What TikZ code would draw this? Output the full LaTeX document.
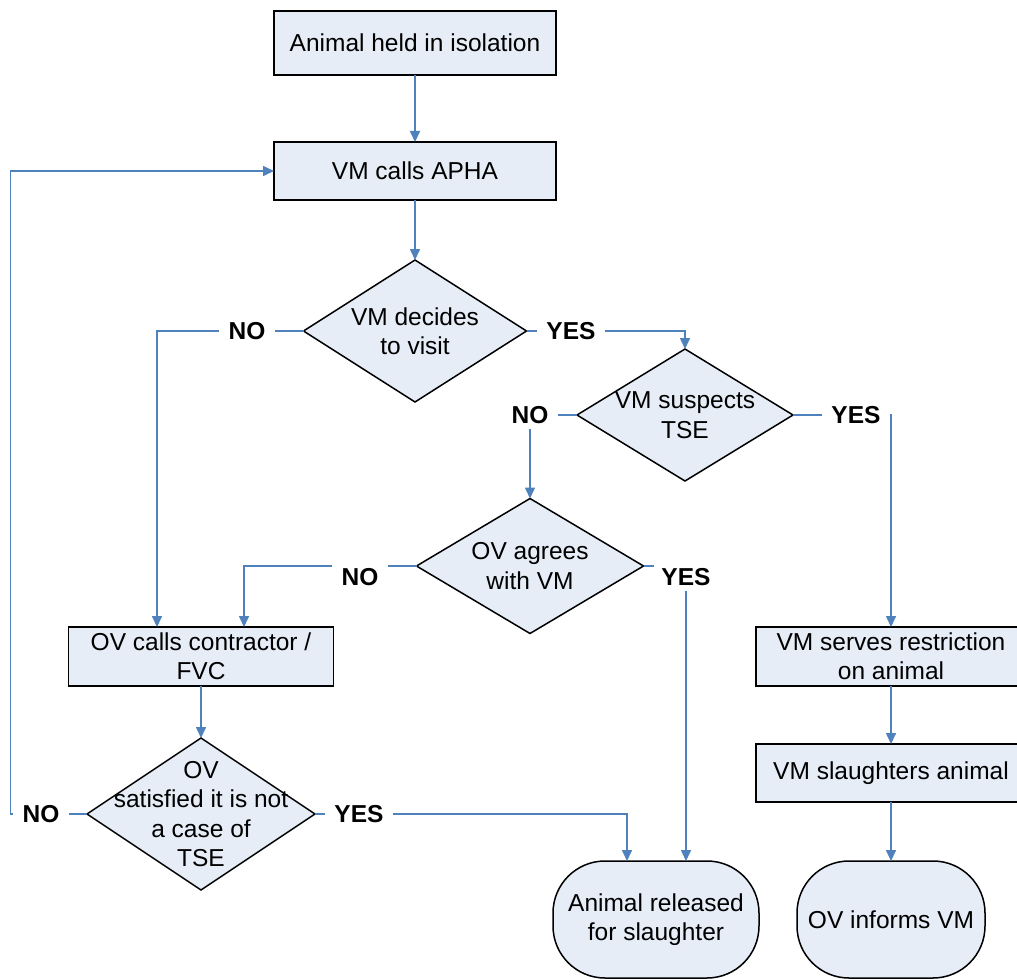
\documentclass[tikz,border=0pt]{standalone}
\usepackage{fontspec}
\setmainfont{Liberation Sans}
\usetikzlibrary{shapes.geometric,arrows.meta,calc}
\definecolor{fillblue}{RGB}{230,237,247}
\definecolor{connblue}{RGB}{79,129,189}
\begin{document}
\begin{tikzpicture}[x=1pt,y=-1pt,
  every node/.style={font=\fontsize{24.5}{29.4}\selectfont},
  procbox/.style={draw=black,line width=1.5pt,fill=fillblue,rectangle,inner sep=0pt,outer sep=0pt,align=center},
  decbox/.style={draw=black,line width=1.5pt,fill=fillblue,diamond,inner sep=0pt,outer sep=0pt},
  termbox/.style={draw=black,line width=1.5pt,fill=fillblue,rectangle,rounded corners=52pt,inner sep=0pt,outer sep=0pt,align=center},
  dtext/.style={align=center,inner sep=0pt},
  lbl/.style={font=\fontsize{24.5}{29.4}\selectfont\bfseries,inner xsep=9pt,inner ysep=5pt},
  conn/.style={draw=connblue,line width=1.6pt},
  arr/.style={conn,-{Triangle[length=11pt,width=10pt]}}
]
\useasboundingbox (0,0) rectangle (1017,979);

\node[procbox,minimum width=282pt,minimum height=64pt] (b1) at (415,43) {Animal held in isolation};
\node[procbox,minimum width=282pt,minimum height=58pt] (b2) at (415,171) {VM calls APHA};
\node[decbox,minimum width=223pt,minimum height=142pt] (d1) at (415,331) {};
\node[dtext] (d1t) at (d1.center) {VM decides\\to visit};
\node[decbox,minimum width=216pt,minimum height=132pt] (d2) at (685,415) {};
\node[dtext] (d2t) at (d2.center) {VM suspects\\TSE};
\node[decbox,minimum width=227pt,minimum height=135pt] (d3) at (530,566) {};
\node[dtext] (d3t) at (d3.center) {OV agrees\\with VM};
\node[procbox,minimum width=265pt,minimum height=59pt] (b3) at (201,656.5) {OV calls contractor /\\FVC};
\node[decbox,minimum width=228pt,minimum height=152pt] (d4) at (201,814) {};
\node[dtext] (d4t) at (d4.center) {OV\\satisfied it is not\\a case of\\TSE};
\node[procbox,minimum width=270pt,minimum height=59pt] (b4) at (891,656.5) {VM serves restriction\\on animal};
\node[procbox,minimum width=270pt,minimum height=58pt] (b5) at (891,773) {VM slaughters animal};
\node[termbox,minimum width=206pt,minimum height=117pt] (e1) at (656,919.5) {Animal released\\for slaughter};
\node[termbox,minimum width=188pt,minimum height=117pt] (e2) at (891,919.5) {OV informs VM};

\node[lbl] (no1) at (247,331) {NO};
\node[lbl] (yes1) at (571,331) {YES};
\node[lbl] (no2) at (530,415) {NO};
\node[lbl] (yes2) at (856,415) {YES};
\node[lbl] (no3) at (360,577) {NO};
\node[lbl] (yes3) at (686,577) {YES};
\node[lbl] (no4) at (41,814) {NO};
\node[lbl] (yes4) at (359,814) {YES};

\draw[arr] (b1.south) -- (b2.north);
\draw[arr] (b2.south) -- (d1.north);
\draw[conn] (d1.west) -- (no1.east);
\draw[arr] (no1.west) -| ([xshift=-44pt]b3.north);
\draw[conn] (d1.east) -- (yes1.west);
\draw[arr] (yes1.east) -| (d2.north);
\draw[conn] (d2.west) -- (no2.east);
\draw[arr] (no2.south) -- (no2.south |- d3.north);
\draw[conn] (d2.east) -- (yes2.west);
\draw[arr] (yes2.east) -| (b4.north);
\draw[conn] (d3.west) -- (d3.west -| no3.east);
\draw[arr] (d3.west -| no3.west) -| ([xshift=43pt]b3.north);
\draw[conn] (d3.east) -- ++(10,0);
\draw[arr] (yes3.south) -- (yes3.south |- e1.north);
\draw[arr] (b3.south) -- (d4.north);
\draw[conn] (d4.west) -- (no4.east);
\draw[arr] (no4.west) -- ++(-3,0) |- (b2.west);
\draw[conn] (d4.east) -- (yes4.west);
\draw[arr] (yes4.east) -| ([xshift=-29pt]e1.north);
\draw[arr] (b4.south) -- (b5.north);
\draw[arr] (b5.south) -- (e2.north);
\end{tikzpicture}
\end{document}
